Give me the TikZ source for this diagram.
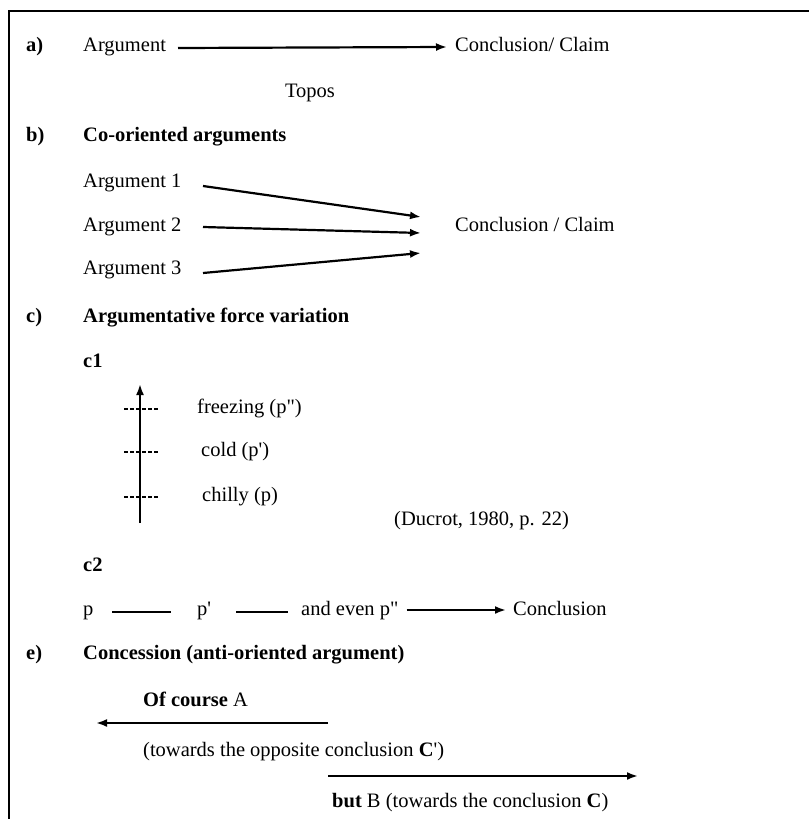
\documentclass[tikz,border=0pt]{standalone}
\usepackage{fontspec}
\setmainfont{Liberation Serif}[Ligatures=TeXOff]
\usetikzlibrary{arrows.meta}
\begin{document}
\begin{tikzpicture}[x=1pt,y=-1pt,
  txt/.style={anchor=west,inner sep=0pt,text height=14pt,text depth=4.5pt,
    font=\fontsize{20.5}{24}\selectfont},
  head/.style={txt,font=\fontsize{20.5}{24}\selectfont\bfseries},
  arr/.style={line width=2.2pt,-{Latex[length=11pt,width=8pt]}},
  plain/.style={line width=2pt},
  tick/.style={line width=1.4pt,dash pattern=on 3.5pt off 2.5pt}]
\useasboundingbox (0,0) rectangle (809,819);
% frame
\draw[line width=2.4pt] (9,819) -- (9,11) -- (809,11);

% a) argument and conclusion
\node[head] (la) at (26,47) {a)};
\node[txt] (arg) at (83,47) {Argument};
\node[txt] (concl) at (455,47) {Conclusion/ Claim};
\node[txt,anchor=center] (topos) at (310,93) {Topos};
\coordinate (as) at (178,48);
\draw[arr] (as) -- ([xshift=-8pt]concl.west);

% b) co-oriented arguments
\node[head] (lb) at (26,137) {b)};
\node[head] (hb) at (83,137) {Co-oriented arguments};
\node[txt] (a1) at (83,183) {Argument 1};
\node[txt] (a2) at (83,227) {Argument 2};
\node[txt] (a3) at (83,270) {Argument 3};
\node[txt] (cc) at (455,227) {Conclusion / Claim};
\coordinate (s1) at (203,186);
\coordinate (s2) at (203,227);
\coordinate (s3) at (203,273);
\coordinate (t1) at (421,217);
\coordinate (t2) at (421,233);
\coordinate (t3) at (421,253);
\draw[arr] (s1) -- (t1);
\draw[arr] (s2) -- (t2);
\draw[arr] (s3) -- (t3);

% c) argumentative force variation
\node[head] (lc) at (26,318) {c)};
\node[head] (hc) at (83,318) {Argumentative force variation};
\node[head] (c1) at (83,363) {c1};
\coordinate (sb) at (140,523);
\coordinate (st) at (140,384);
\draw[arr] (sb) -- (st);
\coordinate (d1) at (124,409);
\coordinate (d2) at (124,452);
\coordinate (d3) at (124,497);
\draw[tick] (d1) -- ++(35,0);
\draw[tick] (d2) -- ++(35,0);
\draw[tick] (d3) -- ++(35,0);
\node[txt] (frz) at (197,409) {freezing (p")};
\node[txt] (cld) at (201,452) {cold (p')};
\node[txt] (chl) at (202,497) {chilly (p)};
\node[txt] (cite) at (394,521) {(Ducrot, 1980, p. 22)};

\node[head] (c2) at (83,567) {c2};
\node[txt] (p0) at (83,611) {p};
\node[txt] (p1) at (197,611) {p'};
\node[txt] (p2) at (301,611) {and even p"};
\node[txt] (pc) at (513,611) {Conclusion};
\draw[plain] (112,612) -- (171,612);
\draw[plain] (236,612) -- (288,612);
\draw[arr] ([xshift=8pt,yshift=1pt]p2.east) -- ([xshift=-7pt,yshift=1pt]pc.west);

% e) concession
\node[head] (le) at (26,655) {e)};
\node[head] (he) at (83,655) {Concession (anti-oriented argument)};
\node[txt] (oca) at (143,702) {\textbf{Of course} A};
\node[txt] (opp) at (143,752) {(towards the opposite conclusion \textbf{C}')};
\node[txt] (bb) at (332,803) {\textbf{but} B (towards the conclusion \textbf{C})};
\coordinate (m1) at (328,723);
\coordinate (l1) at (96,723);
\coordinate (m2) at (328,776);
\coordinate (r2) at (638,776);
\draw[arr] (m1) -- (l1);
\draw[arr] (m2) -- (r2);
\end{tikzpicture}
\end{document}
